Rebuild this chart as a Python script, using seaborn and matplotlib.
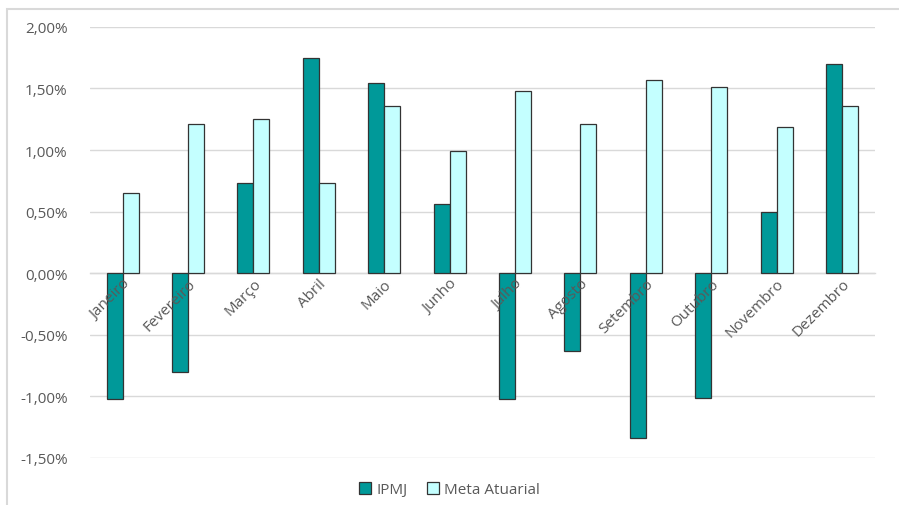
import pandas as pd
import seaborn as sns
import matplotlib.pyplot as plt
from matplotlib.ticker import FuncFormatter
from matplotlib.patches import Rectangle

# ─────────────────────────────────────────
# DATA (valores mensais em %)
# ─────────────────────────────────────────
meses = ["Janeiro", "Fevereiro", "Março", "Abril", "Maio", "Junho",
         "Julho", "Agosto", "Setembro", "Outubro", "Novembro", "Dezembro"]
ipmj = [-1.02, -0.80, 0.73, 1.75, 1.54, 0.56, -1.02, -0.63, -1.34, -1.01, 0.50, 1.70]
meta = [0.65, 1.21, 1.25, 0.73, 1.36, 0.99, 1.48, 1.21, 1.57, 1.51, 1.19, 1.36]
series = ["IPMJ", "Meta Atuarial"]
y_ticks = [-1.5, -1.0, -0.5, 0.0, 0.5, 1.0, 1.5, 2.0]

df = pd.DataFrame({
    "Mês": meses * 2,
    "Valor": ipmj + meta,
    "Série": [series[0]] * len(meses) + [series[1]] * len(meses),
})

# ─────────────────────────────────────────
# STYLE
# ─────────────────────────────────────────
sns.set_style("white")
plt.rcParams["font.family"] = ["Open Sans", "DejaVu Sans"]
TXT = "#595959"
GRID = "#D9D9D9"
palette = {"IPMJ": "#009999", "Meta Atuarial": "#C4FFFF"}

fig = plt.figure(figsize=(8.99, 5.06), dpi=100)
ax = fig.add_axes([0.100, 0.093, 0.873, 0.852])

sns.barplot(data=df, x="Mês", y="Valor", hue="Série", palette=palette,
            width=0.49, saturation=1, edgecolor="#333333", linewidth=0.9, ax=ax,
            legend=True, errorbar=None, zorder=3)

ax.set_ylim(-1.5, 2.0)
ax.set_xlim(-0.5, len(meses) - 0.5)
ax.set_yticks(y_ticks)
ax.yaxis.set_major_formatter(FuncFormatter(lambda v, p: f"{v:.2f}%".replace(".", ",")))
ax.yaxis.grid(True, color=GRID, linewidth=1)
ax.set_axisbelow(True)
ax.xaxis.set_zorder(5)   # rótulos dos meses por cima das barras

for s in ["top", "right", "left"]:
    ax.spines[s].set_visible(False)
ax.spines["bottom"].set_position(("data", 0))
ax.spines["bottom"].set_color(GRID)
ax.spines["bottom"].set_linewidth(1)
ax.spines["bottom"].set_zorder(1)

ax.tick_params(axis="y", length=0, pad=16, labelsize=11, labelcolor=TXT)
ax.tick_params(axis="x", length=0, pad=2, labelsize=11, labelcolor=TXT)
for lbl in ax.get_xticklabels():
    lbl.set_rotation(45)
    lbl.set_ha("right")
    lbl.set_rotation_mode("anchor")
ax.set_xlabel("")
ax.set_ylabel("")

leg = ax.legend(loc="center", bbox_to_anchor=(0.5, 0.03), bbox_transform=fig.transFigure,
                ncol=2, frameon=False, fontsize=11, handlelength=0.75, handleheight=0.75,
                handletextpad=0.35, columnspacing=1.3)
for t in leg.get_texts():
    t.set_color(TXT)

# moldura do gráfico
fig.patches.append(Rectangle((0.008, -0.01), 1.5, 0.99, transform=fig.transFigure,
                             fill=False, edgecolor=GRID, linewidth=1.5))

plt.savefig("out.png", dpi=100)
